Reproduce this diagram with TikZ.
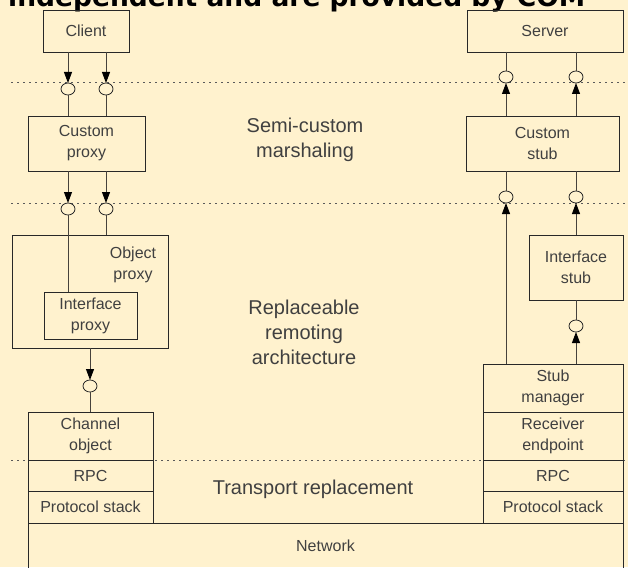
\documentclass[tikz,border=0pt]{standalone}
\usepackage{fontspec}
\setmainfont{Liberation Sans}
\newfontfamily\headfont{DejaVu Sans}
\usetikzlibrary{arrows.meta,shapes.geometric}
\definecolor{paper}{RGB}{255,242,206}
\definecolor{ink}{RGB}{40,40,40}
\definecolor{txt}{RGB}{64,64,64}
\definecolor{wire}{RGB}{70,66,60}
\definecolor{dots}{RGB}{90,90,90}
\tikzset{
  box/.style={draw=ink, line width=0.9pt, rectangle, inner sep=0pt, outer sep=0pt,
    text=txt, align=center, font=\fontsize{16}{21}\selectfont},
  port/.style={draw=ink, line width=0.8pt, ellipse, fill=paper, inner sep=0pt,
    outer sep=0pt, minimum width=14pt, minimum height=12pt},
  wireline/.style={draw=wire, line width=0.9pt},
  arr/.style={wireline, -{Triangle[length=11pt,width=8pt,color=black]}},
  layer/.style={draw=dots, line width=0.7pt, dash pattern=on 2pt off 4pt},
  zone/.style={text=txt, align=center, font=\fontsize{20}{25}\selectfont, inner sep=0pt},
}
\begin{document}
\begin{tikzpicture}[x=1pt,y=-1pt]
\fill[paper] (0,0) rectangle (628,567);
\useasboundingbox (0,0) rectangle (628,567);
\clip (0,0) rectangle (628,567);

% heading (its upper part lies above the page)
\node[anchor=base west, inner sep=0pt, font=\headfont\bfseries\fontsize{26.5}{30}\selectfont, text=black]
  (head) at (8,7) {independent and are provided by COM};

% layer boundaries
\draw[layer] (11,82) -- (628,82);
\draw[layer] (11,203) -- (628,203);
\draw[layer] (11,460) -- (628,460);

% zone captions
\node[zone] (zsemi) at (305,140) {Semi-custom\\marshaling};
\node[zone] (zrepl) at (304,332) {Replaceable\\remoting\\architecture};
\node[zone] (ztrans) at (313,489) {Transport replacement};

% ---------- client side ----------
\node[box, minimum width=86pt, minimum height=42pt] (client) at (86,31) {Client};
\node[box, minimum width=117pt, minimum height=55pt] (cproxy) at (86.5,143.5) {Custom\\proxy};
\node[box, minimum width=156pt, minimum height=113pt] (oproxy) at (90,291.5) {};
\node[text=txt, align=center, font=\fontsize{16}{21}\selectfont, inner sep=0pt] (oplabel) at (133,265) {Object\\proxy};
\node[box, minimum width=93pt, minimum height=47pt] (iproxy) at (90.5,315.5) {Interface\\proxy};
\node[box, minimum width=125pt, minimum height=48pt] (chan) at (90.5,436) {Channel\\object};
\node[box, minimum width=125pt, minimum height=31pt] (rpcl) at (90.5,475.5) {RPC};
\node[box, minimum width=125pt, minimum height=32pt] (protl) at (90.5,507) {Protocol stack};

\node[port] (pa1) at (68,89) {};
\node[port] (pa2) at (106,89) {};
\node[port] (pb1) at (68,209) {};
\node[port] (pb2) at (106,209) {};
\node[port] (pc) at (90,386) {};

\draw[arr] (pa1 |- client.south) -- (pa1.north);
\draw[arr] (pa2 |- client.south) -- (pa2.north);
\draw[wireline] (pa1.south) -- (pa1 |- cproxy.north);
\draw[wireline] (pa2.south) -- (pa2 |- cproxy.north);
\draw[arr] (pb1 |- cproxy.south) -- (pb1.north);
\draw[arr] (pb2 |- cproxy.south) -- (pb2.north);
\draw[wireline] (pb1.south) -- (pb1 |- iproxy.north);
\draw[wireline] (pb2.south) -- (pb2 |- oproxy.north);
\draw[arr] (pc |- oproxy.south) -- (pc.north);
\draw[wireline] (pc.south) -- (pc |- chan.north);

% ---------- server side ----------
\node[box, minimum width=156pt, minimum height=42pt] (server) at (545,31) {Server};
\node[box, minimum width=153pt, minimum height=55pt] (cstub) at (542.5,143.5) {Custom\\stub};
\node[box, minimum width=94pt, minimum height=65pt] (istub) at (576,267.5) {Interface\\stub};
\node[box, minimum width=140pt, minimum height=48pt] (smgr) at (553,388) {Stub\\manager};
\node[box, minimum width=140pt, minimum height=48pt] (recv) at (553,436) {Receiver\\endpoint};
\node[box, minimum width=140pt, minimum height=31pt] (rpcr) at (553,475.5) {RPC};
\node[box, minimum width=140pt, minimum height=32pt] (protr) at (553,507) {Protocol stack};

\node[port] (qa1) at (506,77) {};
\node[port] (qa2) at (576,77) {};
\node[port] (qb1) at (506,197) {};
\node[port] (qb2) at (576,197) {};
\node[port] (qc) at (576,326) {};

\draw[wireline] (qa1 |- server.south) -- (qa1.north);
\draw[wireline] (qa2 |- server.south) -- (qa2.north);
\draw[arr] (qa1 |- cstub.north) -- (qa1.south);
\draw[arr] (qa2 |- cstub.north) -- (qa2.south);
\draw[wireline] (qb1 |- cstub.south) -- (qb1.north);
\draw[wireline] (qb2 |- cstub.south) -- (qb2.north);
\draw[arr] (qb1 |- smgr.north) -- (qb1.south);
\draw[arr] (qb2 |- istub.north) -- (qb2.south);
\draw[wireline] (qc |- istub.south) -- (qc.north);
\draw[arr] (qc |- smgr.north) -- (qc.south);

% ---------- shared network ----------
\node[box, minimum width=595pt, minimum height=46pt] (net) at (325.5,546) {Network};
\end{tikzpicture}
\end{document}
